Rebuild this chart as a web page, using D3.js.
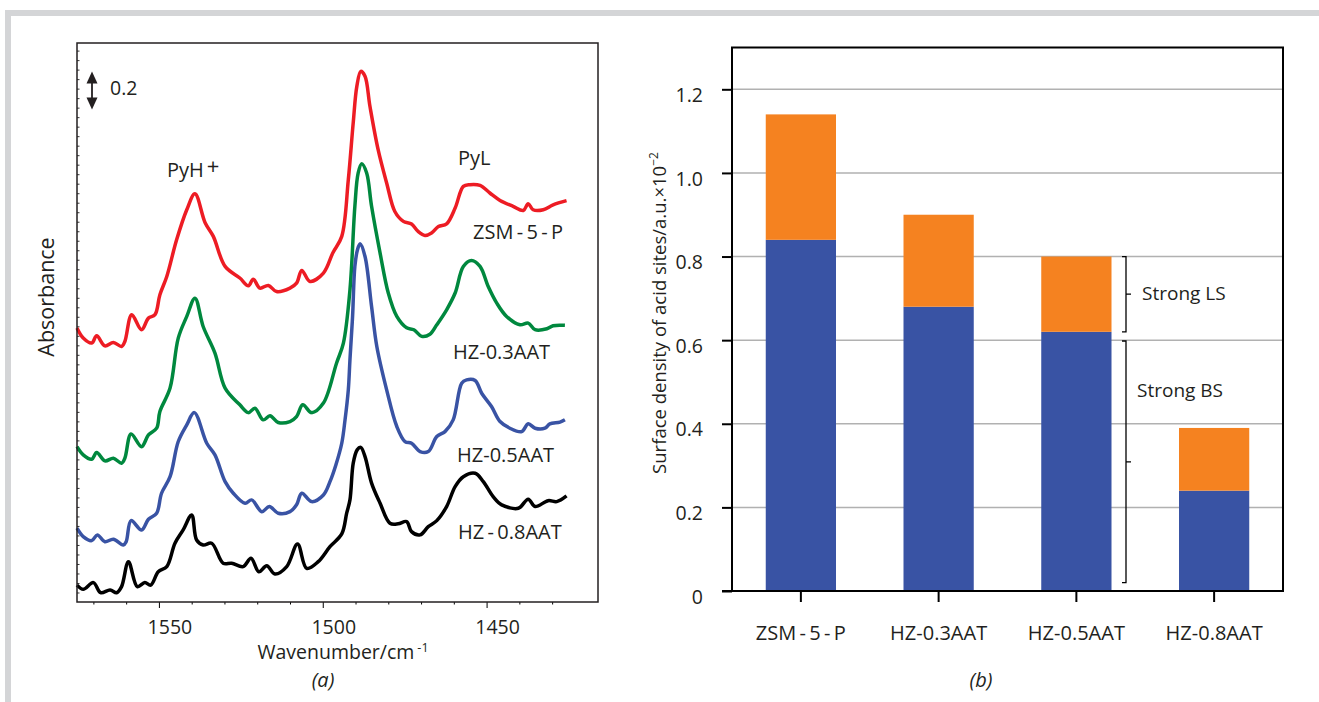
<!DOCTYPE html>
<html>
<head>
<meta charset="utf-8">
<script src="https://cdn.jsdelivr.net/npm/d3@7/dist/d3.min.js"></script>
<style>
	body { margin: 0; background: #fff; }
	text { font-family: "Open Sans", sans-serif; fill: #231f20; }
</style>
</head>
<body>
<div id="chart"></div>
<script>
// (a) pyridine IR spectra, [wavenumber cm-1, absorbance a.u. with offset]
var zsm5p = [[1575,1.441],[1573.1,1.388],[1570.5,1.362],[1569,1.400],[1566.5,1.347],[1563.9,1.365],[1561.4,1.344],[1560.4,1.370],[1558.3,1.511],[1555.3,1.432],[1553.2,1.493],[1551.2,1.511],[1549.7,1.616],[1547.6,1.712],[1544.6,1.905],[1541.5,2.063],[1539,2.147],[1535.9,1.995],[1533.4,1.923],[1529.8,1.765],[1525.3,1.704],[1522.7,1.663],[1521.2,1.698],[1519.2,1.651],[1516.6,1.665],[1514.1,1.633],[1510,1.651],[1508,1.677],[1506.4,1.744],[1503.9,1.686],[1499.8,1.730],[1496.9,1.837],[1494.2,1.923],[1492.2,2.221],[1490.7,2.521],[1489.6,2.712],[1488.4,2.791],[1487.1,2.765],[1485.6,2.607],[1483.1,2.379],[1480.5,2.204],[1478,2.054],[1475.4,2.002],[1472.9,1.988],[1470.9,1.949],[1468.8,1.928],[1466.8,1.941],[1464.7,1.975],[1462.2,1.989],[1459.6,2.072],[1457.1,2.186],[1455.1,2.195],[1452,2.191],[1449,2.151],[1445.9,2.112],[1441.9,2.081],[1438.8,2.059],[1437.3,2.095],[1435.8,2.063],[1432.7,2.063],[1429.7,2.089],[1425.6,2.111]];
var hz03aat = [[1575,0.817],[1573.1,0.774],[1570.5,0.751],[1569,0.786],[1566.5,0.742],[1563.9,0.756],[1561.4,0.730],[1560.4,0.756],[1558.5,0.884],[1555.3,0.817],[1553.2,0.879],[1550.7,0.914],[1549.7,1.002],[1546.6,1.125],[1544.1,1.388],[1541.5,1.502],[1539,1.598],[1536.5,1.449],[1532.9,1.309],[1529.8,1.125],[1525.3,1.037],[1522.7,0.996],[1520.7,1.019],[1518.2,0.958],[1516.1,0.979],[1513.6,0.944],[1510,0.949],[1508,0.975],[1506.1,1.037],[1503.4,0.996],[1499.8,1.046],[1495.8,1.256],[1493.7,1.362],[1491.7,1.642],[1490.2,2.081],[1489.2,2.256],[1488.1,2.305],[1486.6,2.256],[1485.1,2.081],[1482.5,1.835],[1480,1.625],[1477.4,1.502],[1474.4,1.442],[1472.2,1.432],[1469.8,1.397],[1467.3,1.408],[1465.2,1.458],[1462.2,1.537],[1459.6,1.625],[1457.1,1.765],[1454.6,1.796],[1452,1.765],[1449.5,1.659],[1446.9,1.572],[1443.9,1.502],[1439.8,1.458],[1437.3,1.467],[1435.2,1.432],[1431.6,1.437],[1429.7,1.453],[1426.1,1.455]];
var hz05aat = [[1575,0.388],[1573.1,0.344],[1570.5,0.323],[1568.8,0.353],[1566.5,0.317],[1563.9,0.330],[1560.9,0.300],[1560,0.317],[1558.5,0.428],[1555.3,0.379],[1553.2,0.435],[1550.7,0.467],[1549.2,0.572],[1546.6,0.659],[1544.1,0.844],[1541.5,0.932],[1539.2,0.996],[1535.4,0.835],[1532.9,0.774],[1529.8,0.633],[1527.3,0.572],[1523.7,0.519],[1521.7,0.537],[1518.6,0.475],[1516.3,0.502],[1513.6,0.467],[1510,0.475],[1508,0.511],[1506.4,0.572],[1503.4,0.528],[1499.8,0.563],[1497.8,0.633],[1496,0.721],[1494.2,0.835],[1493.2,0.958],[1492.2,1.116],[1491.7,1.274],[1490.9,1.502],[1490.2,1.765],[1489.4,1.853],[1488.6,1.884],[1487.1,1.817],[1485.1,1.554],[1483.5,1.344],[1480.5,1.116],[1477.4,0.923],[1474.9,0.844],[1472.9,0.835],[1470.3,0.791],[1467.8,0.791],[1465.2,0.870],[1462.7,0.896],[1460.2,0.958],[1457.6,1.151],[1456.1,1.168],[1453.5,1.165],[1451.5,1.098],[1448.5,1.028],[1445.9,0.949],[1442.9,0.914],[1439.3,0.896],[1437.3,0.937],[1435.2,0.914],[1432.2,0.914],[1430.7,0.937],[1427.6,0.946],[1426.1,0.958]];
var hz08aat = [[1575,0.089],[1573.1,0.067],[1570,0.102],[1567.8,0.049],[1564.9,0.063],[1562.9,0.049],[1561.4,0.081],[1559.3,0.212],[1556.6,0.081],[1554.3,0.102],[1552.5,0.089],[1550.2,0.159],[1547.6,0.186],[1545.1,0.309],[1542.6,0.379],[1540,0.458],[1538.5,0.326],[1536.5,0.300],[1533.9,0.309],[1530.4,0.204],[1527.8,0.204],[1524.3,0.186],[1521.9,0.230],[1519.5,0.159],[1517.1,0.191],[1514.6,0.147],[1511,0.186],[1507.7,0.305],[1504.9,0.177],[1501.4,0.212],[1497.8,0.291],[1494.2,0.358],[1492.7,0.467],[1491.7,0.537],[1490.7,0.730],[1489.5,0.800],[1488.4,0.813],[1487.1,0.765],[1485.1,0.625],[1482.5,0.519],[1479.5,0.414],[1477,0.411],[1474.4,0.423],[1472.9,0.370],[1470.3,0.353],[1467.8,0.396],[1465.2,0.428],[1462.2,0.502],[1459.6,0.607],[1457.1,0.659],[1453.5,0.677],[1451,0.633],[1448,0.554],[1445.4,0.511],[1440.3,0.493],[1437.3,0.541],[1435.2,0.502],[1431.2,0.533],[1428.6,0.528],[1425.6,0.558]];
var spectraColors = ["#ed1c24", "#00883e", "#3953a4", "#000000"];
var wnTicks = [1570, 1560, 1550, 1540, 1530, 1520, 1510, 1500, 1490, 1480, 1470, 1460, 1450, 1440, 1430];
var wnTickLabels = [1550, 1500, 1450];

// (b) surface density of strong acid sites
var samples = ["ZSM-5-P", "HZ-0.3AAT", "HZ-0.5AAT", "HZ-0.8AAT"];
var strongBS = [0.84, 0.68, 0.62, 0.24];
var strongLS = [0.30, 0.22, 0.18, 0.15];
var densityTicks = [0, 0.2, 0.4, 0.6, 0.8, 1.0, 1.2];

(function() {
	var width = 1319, height = 702

	var svg = d3.select("#chart")
		.append("svg")
		.attr("width", width)
		.attr("height", height)

	// grey page frame
	svg.append("rect").attr("x", 5).attr("y", 10).attr("width", width - 5).attr("height", 6).attr("fill", "#d4d5d7")
	svg.append("rect").attr("x", 5).attr("y", 10).attr("width", 6).attr("height", height - 10).attr("fill", "#d4d5d7")

	// ---------- (a) spectra ----------
	var box = { left: 77, right: 598, top: 43, bottom: 602 }

	var x = d3.scaleLinear()
		.domain([1575, 1416])
		.range([box.left, box.right])

	var y = d3.scaleLinear()
		.domain([0, 2.94])
		.range([box.bottom, box.top])

	var gA = svg.append("g")

	// small inward ticks on the absorbance axis
	gA.append("g")
		.attr("transform", "translate(" + box.left + ",0)")
		.call(d3.axisLeft(y).tickValues(d3.range(1, 59).map(function(i) { return i * 0.05 })).tickSize(-2.5).tickFormat(""))
		.call(function(g) { g.select(".domain").remove() })
		.selectAll("line").attr("stroke-width", 0.8)

	gA.append("g")
		.attr("transform", "translate(0," + box.bottom + ")")
		.call(d3.axisBottom(x).tickValues(wnTicks).tickSize(3).tickFormat(""))
		.call(function(g) { g.select(".domain").remove() })
		.selectAll(".tick line")
		.attr("stroke-width", 1)
		.attr("y2", function(d) { return wnTickLabels.indexOf(d) >= 0 ? 6 : 2.5 })

	gA.selectAll(".wn-label")
		.data(wnTickLabels)
		.enter().append("text")
		.attr("class", "wn-label")
		.attr("x", function(d) { return x(d) + 11 })
		.attr("y", 634)
		.attr("text-anchor", "middle")
		.style("font-size", "19.5px")
		.text(function(d) { return d })

	var line = d3.line()
		.x(function(d) { return x(d[0]) })
		.y(function(d) { return y(d[1]) })
		.curve(d3.curveCatmullRom.alpha(0.5))

	gA.selectAll(".spectrum")
		.data([zsm5p, hz03aat, hz05aat, hz08aat])
		.enter().append("path")
		.attr("class", "spectrum")
		.attr("d", line)
		.attr("fill", "none")
		.attr("stroke", function(d, i) { return spectraColors[i] })
		.attr("stroke-width", 3.5)
		.attr("stroke-linejoin", "round")

	gA.append("rect")
		.attr("x", box.left).attr("y", box.top)
		.attr("width", box.right - box.left).attr("height", box.bottom - box.top)
		.attr("fill", "none").attr("stroke", "#231f20").attr("stroke-width", 1.5)

	// 0.2 scale arrow
	var ax = 92, aTop = y(2.79), aBot = y(2.59)
	gA.append("line").attr("x1", ax).attr("x2", ax).attr("y1", aTop + 9).attr("y2", aBot - 9).attr("stroke", "#231f20").attr("stroke-width", 1.8)
	gA.append("path").attr("d", "M" + ax + "," + aTop + "l5.5,12h-11z").attr("fill", "#231f20")
	gA.append("path").attr("d", "M" + ax + "," + aBot + "l5.5,-12h-11z").attr("fill", "#231f20")
	gA.append("text").attr("x", 110).attr("y", 95).style("font-size", "19.5px").text("0.2")

	var pyh = gA.append("text").attr("x", 167).attr("y", 177).style("font-size", "20px")
	pyh.append("tspan").text("PyH")
	pyh.append("tspan").attr("dx", 3).attr("dy", -3).style("font-size", "22px").text("+")
	gA.append("text").attr("x", 458).attr("y", 165).style("font-size", "20px").text("PyL")

	var spectraLabels = [
		{ t: "ZSM\u2009-\u20095\u2009-\u2009P", x: 473, y: 239 },
		{ t: "HZ-0.3AAT", x: 453, y: 359 },
		{ t: "HZ-0.5AAT", x: 457, y: 462 },
		{ t: "HZ\u2009-\u20090.8AAT", x: 458, y: 539 }
	]
	gA.selectAll(".spec-label")
		.data(spectraLabels)
		.enter().append("text")
		.attr("x", function(d) { return d.x })
		.attr("y", function(d) { return d.y })
		.style("font-size", "20px")
		.text(function(d) { return d.t })

	gA.append("text")
		.attr("transform", "translate(54,297) rotate(-90)")
		.attr("text-anchor", "middle")
		.style("font-size", "21.5px")
		.text("Absorbance")

	var wt = gA.append("text").attr("x", 343).attr("y", 659).attr("text-anchor", "middle").style("font-size", "19.5px")
	wt.append("tspan").text("Wavenumber/cm")
	wt.append("tspan").attr("dx", 3).attr("dy", -7).style("font-size", "12.5px").text("-1")

	gA.append("text").attr("x", 323).attr("y", 687).attr("text-anchor", "middle")
		.style("font-size", "20px").style("font-style", "italic").text("(a)")

	// ---------- (b) bars ----------
	var boxB = { left: 732, right: 1283, top: 47.5, bottom: 591 }

	var xb = d3.scaleBand()
		.domain(samples)
		.range([boxB.left, boxB.right])
		.paddingInner(0.49)
		.paddingOuter(0.245)

	var yb = d3.scaleLinear()
		.domain([0, 1.3])
		.range([boxB.bottom, boxB.top])

	var gB = svg.append("g")

	gB.selectAll(".grid")
		.data(densityTicks.slice(1))
		.enter().append("line")
		.attr("x1", boxB.left).attr("x2", boxB.right)
		.attr("y1", function(d) { return yb(d) }).attr("y2", function(d) { return yb(d) })
		.attr("stroke", "#b1b1b1").attr("stroke-width", 1.5)

	var table = samples.map(function(s, i) { return { sample: s, bs: strongBS[i], ls: strongLS[i] } })
	var stacked = d3.stack().keys(["bs", "ls"])(table)
	var barColors = { bs: "#3953a4", ls: "#f58220" }

	gB.selectAll(".layer")
		.data(stacked)
		.enter().append("g")
		.attr("fill", function(d) { return barColors[d.key] })
		.selectAll("rect")
		.data(function(d) { return d })
		.enter().append("rect")
		.attr("x", function(d) { return xb(d.data.sample) })
		.attr("width", xb.bandwidth())
		.attr("y", function(d) { return yb(d[1]) })
		.attr("height", function(d) { return yb(d[0]) - yb(d[1]) })

	gB.append("rect")
		.attr("x", boxB.left).attr("y", boxB.top)
		.attr("width", boxB.right - boxB.left).attr("height", boxB.bottom - boxB.top)
		.attr("fill", "none").attr("stroke", "#000").attr("stroke-width", 2)

	gB.append("g")
		.attr("transform", "translate(" + boxB.left + ",0)")
		.call(d3.axisLeft(yb).tickValues(densityTicks).tickSize(10).tickPadding(19)
			.tickFormat(function(d) { return d === 0 ? "0" : d3.format(".1f")(d) }))
		.call(function(g) {
			g.select(".domain").remove()
			g.selectAll("line").attr("stroke-width", 2)
			g.selectAll("text").attr("dy", "0.62em").style("font-size", "19.5px")
				.style("font-family", "'Open Sans', sans-serif").attr("fill", "#231f20")
		})

	gB.append("g")
		.attr("transform", "translate(0," + boxB.bottom + ")")
		.call(d3.axisBottom(xb).tickSize(11).tickPadding(24)
			.tickFormat(function(d) { return d.replace(/-/g, d === "ZSM-5-P" ? "\u2009-\u2009" : "-") }))
		.call(function(g) {
			g.select(".domain").attr("d", "M" + (boxB.left - 10) + ",0H" + boxB.right).attr("stroke-width", 2)
			g.selectAll("line").attr("stroke-width", 2)
			g.selectAll("text").style("font-size", "20px")
				.style("font-family", "'Open Sans', sans-serif").attr("fill", "#231f20")
		})

	var yt = gB.append("text")
		.attr("transform", "translate(666,313) rotate(-90)")
		.attr("text-anchor", "middle")
		.style("font-size", "18.5px")
	yt.append("tspan").text("Surface density of acid sites/a.u.\u00d710")
	yt.append("tspan").attr("dy", -8).style("font-size", "12px").text("\u22122")

	// brackets for strong LS / BS
	var bx = 1126
	function bracket(lo, hi) {
		var t = yb(hi), b = yb(lo), m = (t + b) / 2
		gB.append("path")
			.attr("d", "M" + (bx - 4) + "," + t + "H" + bx + "V" + b + "H" + (bx - 4) + "M" + bx + "," + m + "H" + (bx + 5))
			.attr("fill", "none").attr("stroke", "#000").attr("stroke-width", 1.3)
	}
	bracket(0.62, 0.80)
	bracket(0.02, 0.598)
	gB.append("text").attr("x", 1142).attr("y", 300).style("font-size", "19px").text("Strong LS")
	gB.append("text").attr("x", 1137).attr("y", 397).style("font-size", "19px").text("Strong BS")

	gB.append("text").attr("x", 981).attr("y", 687).attr("text-anchor", "middle")
		.style("font-size", "20px").style("font-style", "italic").text("(b)")
})();
</script>
</body>
</html>
